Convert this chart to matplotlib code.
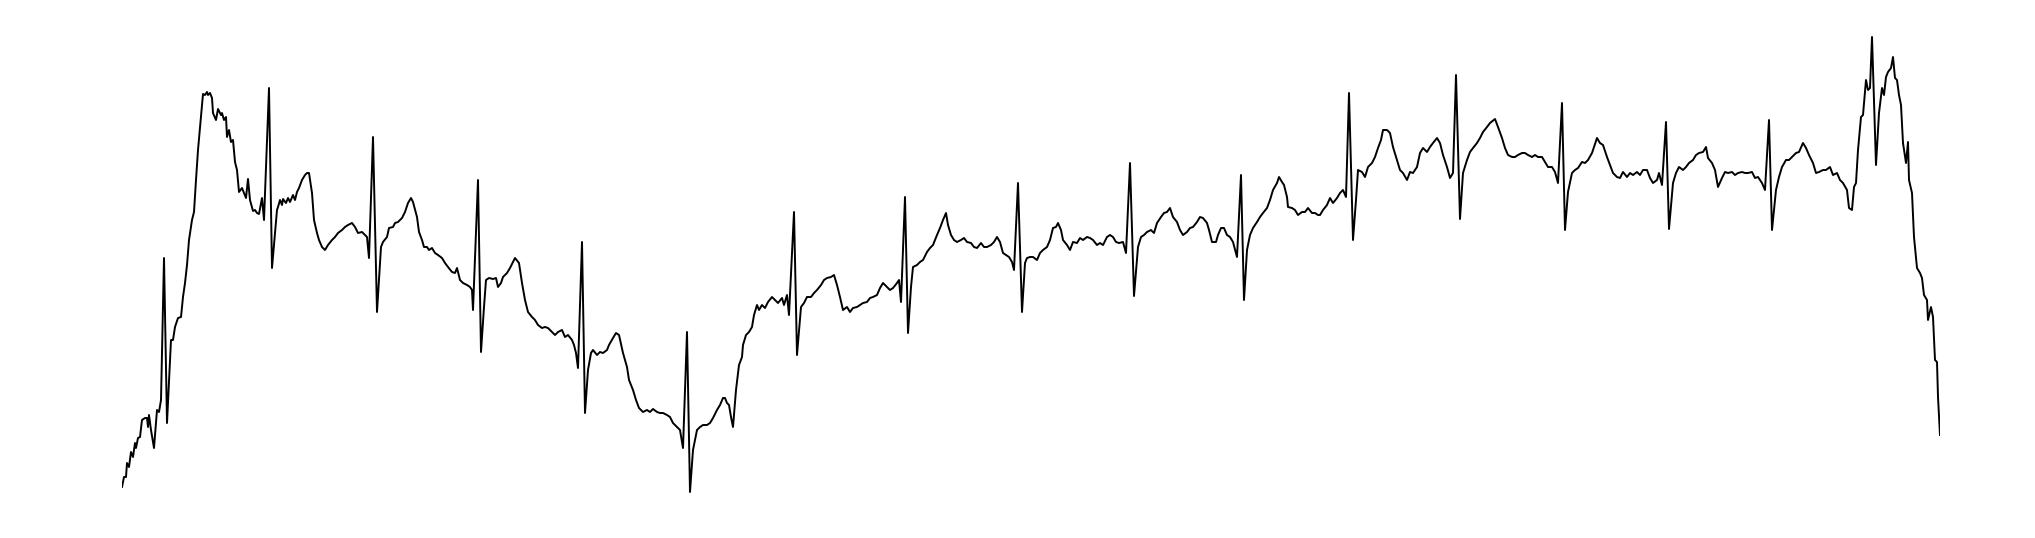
import matplotlib
matplotlib.use("Agg")
import matplotlib.pyplot as plt

FS = 180.0  # samples per second

seg1 = [(0,-1.57),(2,-1.47),(4,-1.47),(5,-1.33),(7,-1.37),(9,-1.22),(11,-1.27),(13,-1.13),(14,-1.18),(16,-1.08),
        (18,-1.07),(20,-0.90),(23,-0.88),(25,-0.88),(26,-0.97),(27,-0.85),(29,-1.00),(32,-1.18),(35,-0.80),(37,-0.82),
        (39,-0.70),(42,0.72),(45,-0.93),(49,-0.10),(51,-0.10),(53,0.03),(56,0.12),(59,0.13),(61,0.33),(63,0.47),
        (65,0.65),(67,0.90),(70,1.10),(72,1.18),(74,1.50),(76,1.80),(79,2.13),(81,2.36),(83,2.35),(85,2.38),
        (86,2.35),(88,2.37),(90,2.32),(91,2.17),(94,2.10),(96,2.21),(99,2.15),(100,2.17),(102,2.10),(104,2.13),
        (105,1.93),(107,2.00),(109,1.88),(111,1.90),(113,1.68),(115,1.60),(117,1.38),(120,1.42),(122,1.37),(124,1.32),
        (126,1.51),(128,1.30),(131,1.19),(133,1.20),(135,1.17),(137,1.16),(140,1.32),(142,1.10),(147,2.42),(150,0.62),
        (155,1.20),(156,1.23),(158,1.30),(160,1.25),(161,1.31),(164,1.27),(166,1.32),(168,1.28),(171,1.35),(173,1.30),
        (175,1.38),(177,1.42),(180,1.50),(183,1.55),(185,1.57),(187,1.57),(190,1.37),(192,1.10),(195,0.97),(197,0.90),
        (200,0.83),(203,0.80),(206,0.85),(210,0.90),(213,0.93),(216,0.97),(220,1.00),(223,1.03),(226,1.05),(230,1.07),
        (233,1.03),(236,0.97),(240,0.98),(243,0.95),(245,0.93),(247,0.72),(251,1.93),(255,0.18),(259,0.83),(261,0.88),
        (265,0.93),(267,1.02),(271,1.03),(273,1.07),(276,1.08),(280,1.12),(283,1.18),(286,1.27),(289,1.32)]

seg2 = [(291,1.28),(295,1.13),(297,0.98),(300,0.90),(302,0.83),(305,0.83),(307,0.80),(310,0.82),(313,0.77),(316,0.75),
        (320,0.72),(323,0.67),(326,0.63),(330,0.58),(333,0.57),(335,0.62),(338,0.50),(341,0.47),(345,0.45),(348,0.43),
        (350,0.40),(351,0.20),(356,1.50),(359,-0.22),(362,0.23),(364,0.50),(367,0.52),(371,0.51),(374,0.52),(376,0.43),
        (379,0.47),(381,0.53),(385,0.57),(388,0.62),(391,0.68),(393,0.72),(397,0.67),(400,0.47),(403,0.30),(406,0.18),
        (410,0.13),(413,0.10),(416,0.05),(420,0.02),(423,0.03),(426,0.02),(430,-0.02),(433,-0.05),(436,-0.02),(440,0.00),
        (443,-0.07),(446,-0.05),(450,-0.10),(452,-0.15),(454,-0.23),(456,-0.38),(460,0.88),(463,-0.83),(466,-0.40),(469,-0.23),
        (471,-0.20),(475,-0.25),(478,-0.22),(481,-0.23),(485,-0.20),(487,-0.15),(491,-0.08),(494,-0.03),(497,-0.05),(501,-0.23),
        (505,-0.37),(507,-0.50),(511,-0.60),(514,-0.70),(517,-0.78),(521,-0.82),(525,-0.80),(528,-0.82),(531,-0.79),(535,-0.82),
        (538,-0.83),(541,-0.83),(545,-0.85),(548,-0.87),(551,-0.93),(555,-0.97),(558,-1.00),(561,-1.18),(565,-0.02),(568,-1.62),
        (571,-1.20),(575,-1.00),(578,-0.97),(581,-0.95),(585,-0.95),(588,-0.93),(591,-0.88),(595,-0.80)]

seg3 = [(598,-0.75),(601,-0.68),(603,-0.68),(605,-0.73),(607,-0.75),(609,-0.87),(611,-0.97),(614,-0.60),(617,-0.35),(620,-0.27),
        (621,-0.15),(624,-0.05),(627,-0.02),(630,0.03),(632,0.15),(635,0.25),(637,0.20),(640,0.25),(643,0.22),(646,0.28),
        (650,0.33),(653,0.30),(656,0.27),(660,0.32),(662,0.25),(665,0.35),(667,0.15),(672,1.18),(675,-0.25),(679,0.23),
        (682,0.27),(685,0.33),(689,0.33),(692,0.37),(695,0.40),(699,0.45),(702,0.50),(705,0.52),(709,0.53),(712,0.55),
        (715,0.45),(718,0.33),(721,0.20),(725,0.23),(728,0.18),(731,0.22),(735,0.23),(738,0.25),(741,0.27),(745,0.28),
        (748,0.32),(751,0.33),(755,0.35),(758,0.42),(761,0.47),(765,0.43),(768,0.40),(771,0.42),(775,0.47),(777,0.50),
        (779,0.28),(783,1.33),(786,-0.03),(789,0.43),(791,0.63),(795,0.65),(798,0.68),(801,0.70),(805,0.78),(808,0.82),
        (811,0.85),(815,0.95),(818,1.02),(821,1.10),(824,1.17),(826,1.05),(829,0.95),(832,0.90),(835,0.88),(839,0.90),
        (842,0.92),(845,0.88),(849,0.87),(852,0.83),(855,0.82),(859,0.87),(862,0.83),(865,0.83),(869,0.85),(872,0.88),
        (875,0.93),(878,0.88),(881,0.77),(884,0.75),(887,0.73),(890,0.68),(892,0.60),(896,1.47)]

seg4 = [(900,0.18),(903,0.67),(905,0.72),(908,0.73),(911,0.73),(915,0.70),(918,0.77),(921,0.80),(925,0.83),(928,0.90),
        (931,1.02),(934,1.03),(936,1.07),(939,1.00),(941,0.90),(945,0.85),(948,0.80),(951,0.88),(955,0.87),(958,0.92),
        (961,0.90),(965,0.93),(968,0.92),(971,0.90),(975,0.85),(978,0.87),(981,0.85),(985,0.93),(988,0.95),(991,0.93),
        (994,0.88),(997,0.87),(1001,0.88),(1004,0.77),(1008,1.67),(1012,0.34),(1016,0.83),(1019,0.93),(1022,0.95),(1025,0.98),
        (1029,1.00),(1032,0.97),(1035,1.07),(1039,1.13),(1042,1.17),(1045,1.18),(1048,1.22),(1051,1.13),(1055,1.08),(1058,1.00),
        (1061,0.95),(1065,0.98),(1068,1.02),(1071,1.03),(1075,1.08),(1078,1.13),(1081,1.12),(1085,1.07),(1087,1.00),(1090,0.88),
        (1094,0.88),(1096,0.95),(1099,1.02),(1102,1.02),(1105,0.95),(1108,0.93),(1111,0.88),(1115,0.73),(1119,1.55),(1122,0.30),
        (1125,0.80),(1128,0.95),(1131,1.02),(1135,1.08),(1138,1.13),(1141,1.17),(1145,1.22),(1148,1.30),(1151,1.40),(1155,1.47),
        (1157,1.53),(1160,1.48),(1162,1.45),(1165,1.33),(1166,1.23),(1170,1.22),(1173,1.20),(1176,1.15),(1180,1.18),(1183,1.18),
        (1186,1.22),(1190,1.17),(1193,1.17),(1196,1.15)]

seg5 = [(1198,1.15),(1201,1.20),(1205,1.25),(1208,1.32),(1211,1.27),(1215,1.32),(1218,1.37),(1221,1.40),(1224,1.33),(1227,2.37),
        (1231,0.90),(1234,1.30),(1236,1.60),(1240,1.58),(1243,1.53),(1246,1.63),(1250,1.67),(1253,1.73),(1256,1.82),(1259,1.90),
        (1261,2.00),(1265,2.00),(1268,1.97),(1271,1.83),(1275,1.70),(1278,1.60),(1281,1.57),(1285,1.50),(1288,1.58),(1291,1.57),
        (1295,1.63),(1298,1.77),(1301,1.82),(1305,1.78),(1308,1.83),(1311,1.87),(1315,1.92),(1318,1.87),(1321,1.75),(1325,1.63),
        (1328,1.52),(1331,1.57),(1334,2.55),(1338,1.11),(1341,1.57),(1345,1.70),(1348,1.78),(1351,1.82),(1355,1.87),(1358,1.92),
        (1361,1.98),(1365,2.03),(1368,2.07),(1373,2.11),(1376,2.03),(1380,1.92),(1383,1.82),(1386,1.75),(1390,1.73),(1393,1.73),
        (1396,1.75),(1400,1.77),(1403,1.77),(1406,1.75),(1410,1.73),(1413,1.75),(1416,1.73),(1420,1.73),(1423,1.68),(1426,1.63),
        (1430,1.63),(1433,1.58),(1436,1.47),(1440,2.27),(1443,1.00),(1446,1.38),(1450,1.57),(1453,1.60),(1456,1.62),(1460,1.68),
        (1463,1.67),(1466,1.70),(1470,1.77),(1472,1.83),(1475,1.92),(1478,1.87),(1481,1.85),(1485,1.73),(1488,1.65)]

seg6 = [(1491,1.57),(1495,1.53),(1498,1.52),(1501,1.58),(1505,1.53),(1508,1.57),(1511,1.55),(1515,1.58),(1518,1.55),(1521,1.60),
        (1525,1.60),(1528,1.52),(1531,1.47),(1535,1.50),(1537,1.57),(1540,1.45),(1544,2.08),(1547,1.01),(1551,1.47),(1554,1.57),
        (1557,1.63),(1561,1.60),(1564,1.63),(1567,1.67),(1571,1.70),(1574,1.75),(1577,1.77),(1581,1.78),(1584,1.83),(1586,1.72),
        (1590,1.67),(1593,1.60),(1596,1.43),(1600,1.52),(1603,1.58),(1606,1.57),(1610,1.58),(1613,1.55),(1616,1.57),(1620,1.58),
        (1623,1.57),(1626,1.57),(1630,1.58),(1633,1.52),(1636,1.53),(1640,1.47),(1643,1.40),(1647,2.10),(1650,1.00),(1654,1.40),
        (1657,1.53),(1660,1.63),(1664,1.70),(1667,1.70),(1670,1.73),(1674,1.77),(1677,1.78),(1681,1.87),(1684,1.82),(1687,1.75),
        (1691,1.67),(1694,1.57),(1697,1.58),(1701,1.60),(1704,1.60),(1708,1.63),(1711,1.55),(1715,1.57),(1718,1.50),(1721,1.47),
        (1725,1.40),(1727,1.22),(1730,1.20),(1732,1.43),(1734,1.47),(1736,1.80),(1739,2.13),(1741,2.15),(1744,2.50),(1746,2.40),
        (1748,2.42),(1750,2.93),(1754,1.65),(1757,2.17),(1760,2.42),(1762,2.35),(1764,2.53),(1766,2.58),(1769,2.62),(1771,2.73),
        (1773,2.52),(1775,2.50),(1777,2.35),(1779,2.25),(1781,1.87),(1784,1.67),(1786,1.88),(1787,1.50),(1790,1.37),(1792,0.93),
        (1795,0.62),(1798,0.57),(1800,0.52),(1802,0.35),(1805,0.30),(1806,0.10),(1809,0.23),(1811,0.13),(1813,-0.30),(1815,-0.32),
        (1816,-0.67),(1818,-1.05)]

segments = [seg1, seg2, seg3, seg4, seg5, seg6]
sample_idx = [n for seg in segments for n, _ in seg]
ecg_mv = [v for seg in segments for _, v in seg]
time_s = [n / FS for n in sample_idx]

W, H = 2035, 538
fig = plt.figure(figsize=(W / 100, H / 100), dpi=100)
ax = fig.add_axes([122 / W, 38 / H, 1818 / W, 470 / H])
ax.plot(time_s, ecg_mv, color="black", linewidth=1.4, solid_joinstyle="round")
ax.set_xlim(0, 1818 / FS)
ax.set_ylim(-1.7, 3.0)
ax.axis("off")
fig.savefig("out.png", dpi=100, facecolor="white")
